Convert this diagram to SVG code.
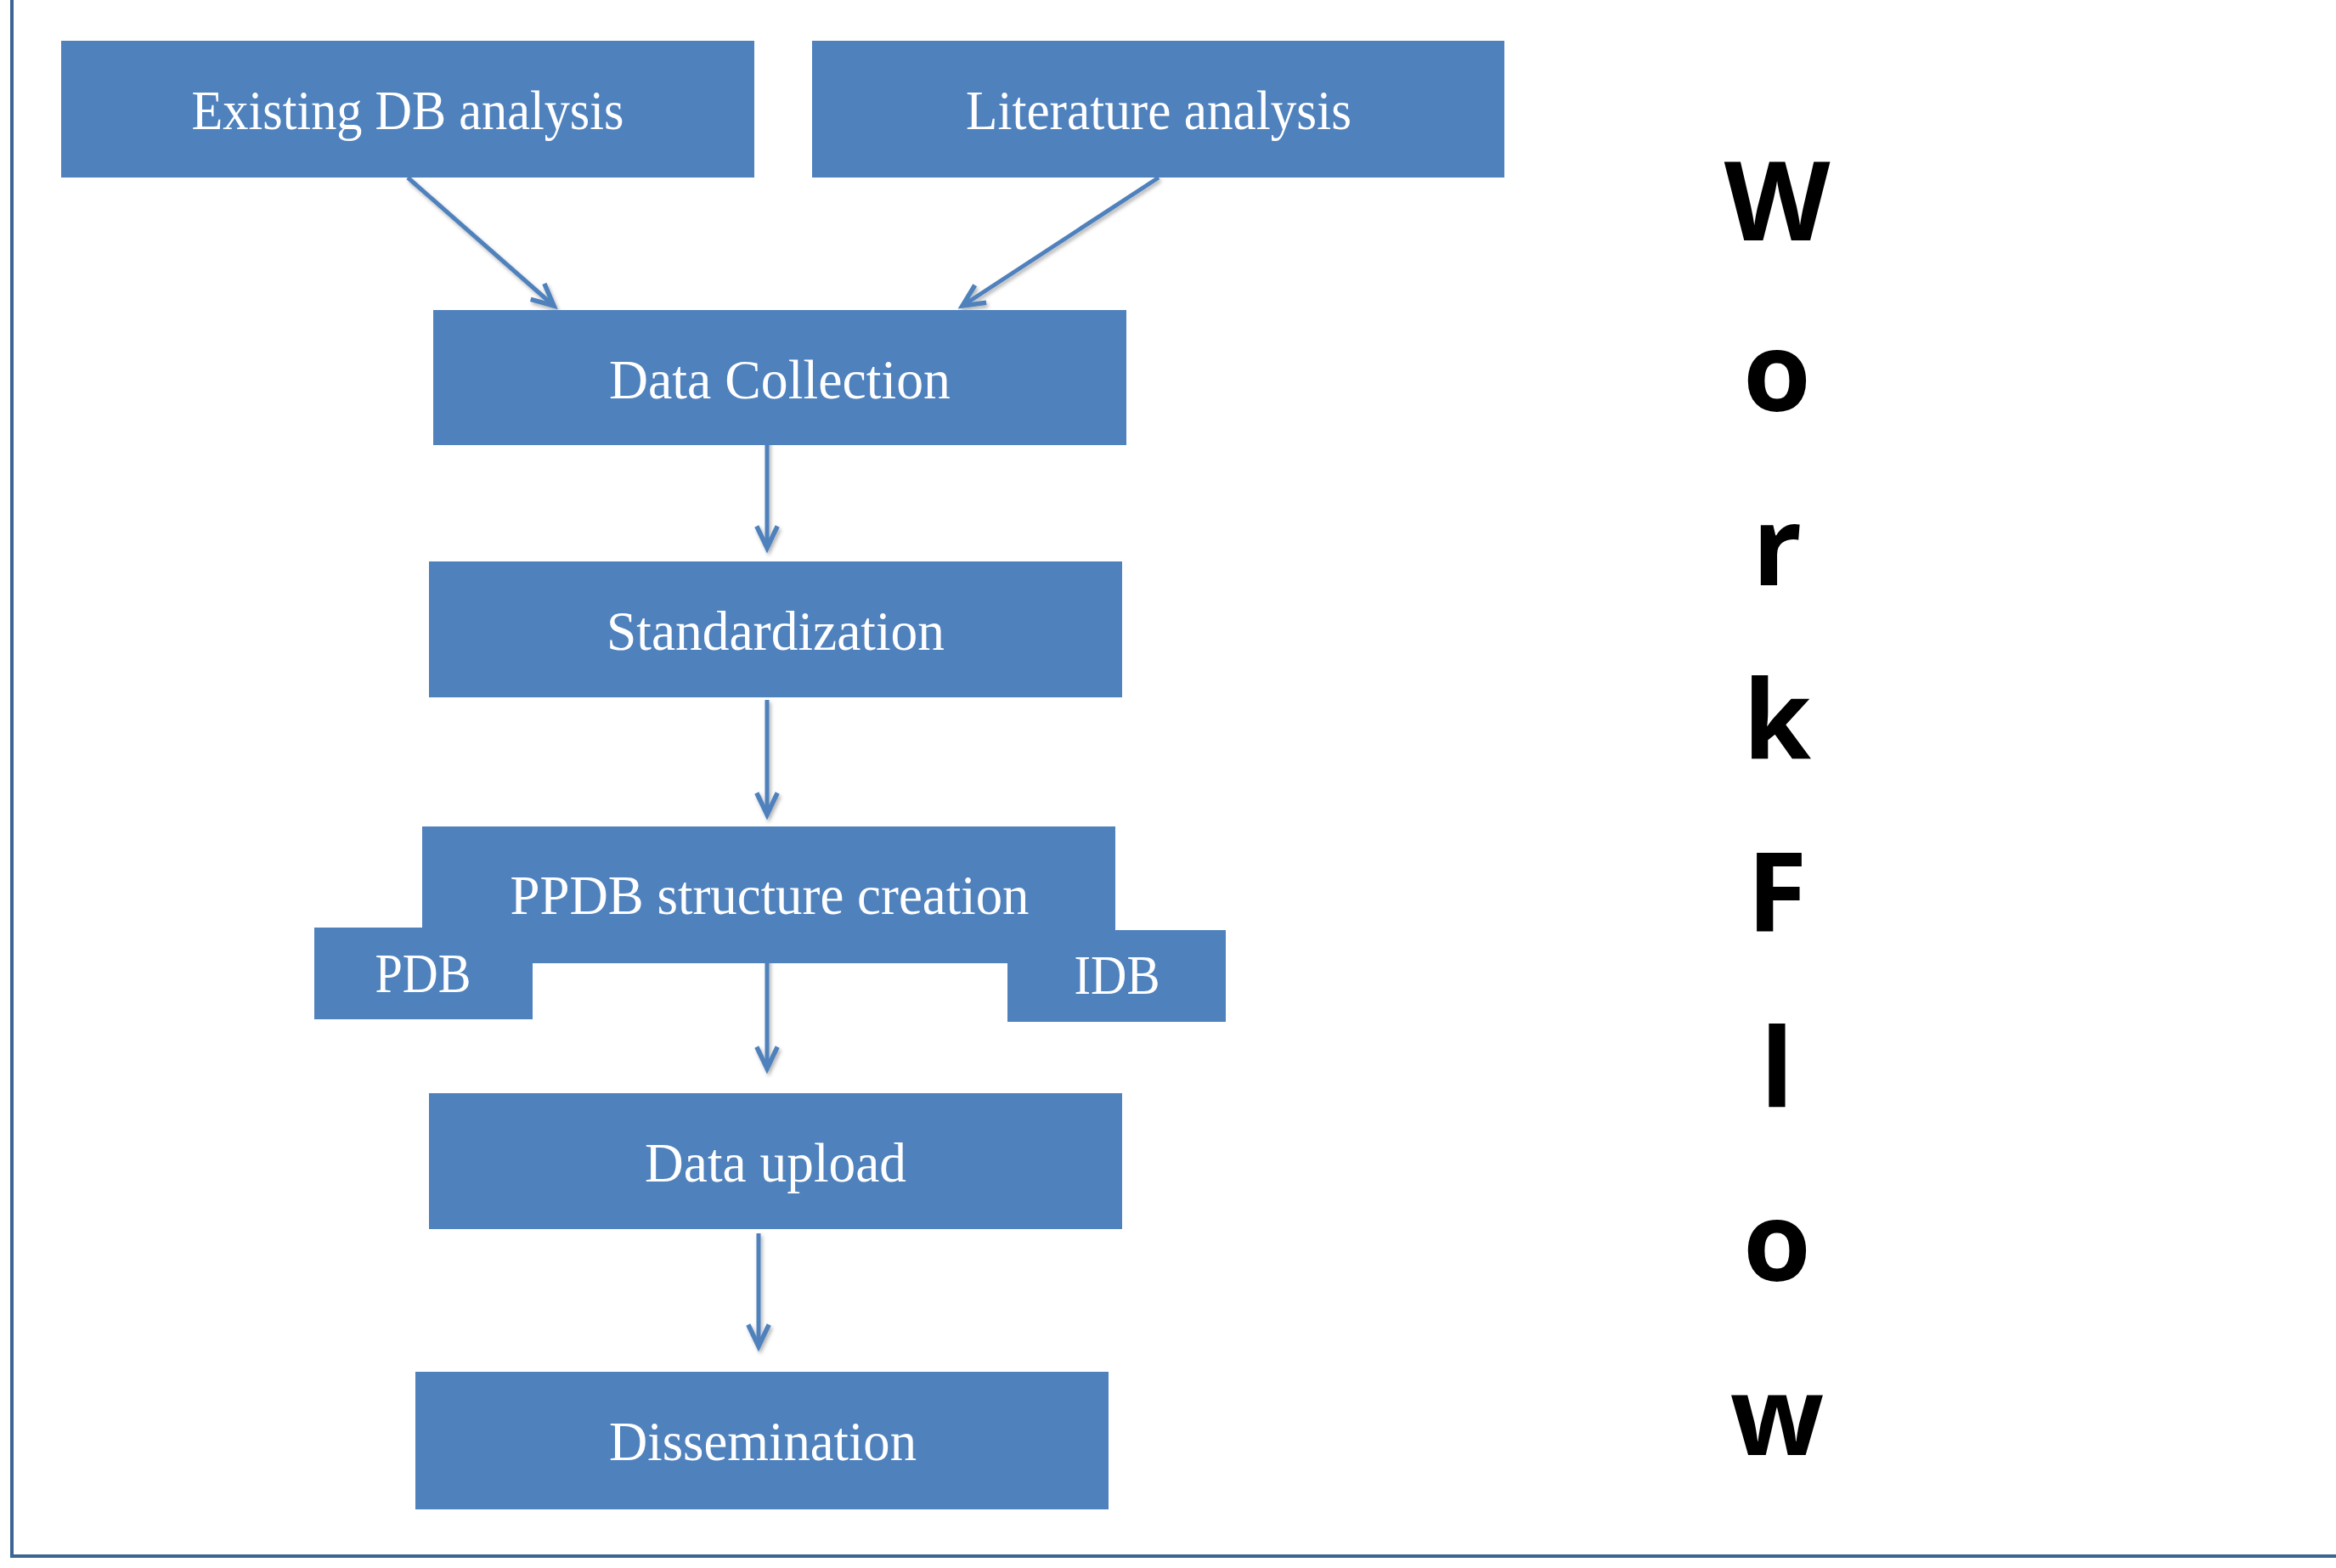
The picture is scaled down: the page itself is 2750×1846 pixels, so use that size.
<svg xmlns="http://www.w3.org/2000/svg" width="2750" height="1846" viewBox="0 0 2750 1846">
<defs>
<style>
.box{fill:#4F81BD}
.lbl{font-family:"Liberation Serif","DejaVu Serif",serif;font-size:66px;fill:#FFFFFF;text-anchor:middle}
.conn{stroke:#4F81BD;stroke-width:5;fill:none;marker-end:url(#arr)}
.wf{font-family:"Open Sans","Liberation Sans",sans-serif;font-weight:bold;font-size:129px;fill:#000000;text-anchor:middle}
.frame{stroke:#3C6494;stroke-width:4;fill:none}
</style>
<marker id="arr" markerUnits="userSpaceOnUse" markerWidth="40" markerHeight="40" viewBox="-30 -15 36 30" refX="0" refY="0" orient="auto">
<path d="M-23,-11 L0,0 L-23,11" fill="none" stroke="#4F81BD" stroke-width="5" stroke-linejoin="miter"/>
</marker>
<filter id="sh" x="-20%" y="-20%" width="140%" height="140%">
<feDropShadow dx="2" dy="3" stdDeviation="2" flood-color="#000" flood-opacity="0.3"/>
</filter>
</defs>
<rect width="2750" height="1846" fill="#FFFFFF"/>
<g id="frame">
<path class="frame" d="M14,0 L14,1832 L2750,1832"/>
</g>
<g id="connectors" filter="url(#sh)">
<line class="conn" x1="480" y1="209" x2="652" y2="360"/>
<line class="conn" x1="1364" y1="209" x2="1133" y2="360"/>
<line class="conn" x1="903" y1="514" x2="903" y2="645"/>
<line class="conn" x1="903" y1="824" x2="903" y2="959"/>
<line class="conn" x1="903" y1="1125" x2="903" y2="1258"/>
<line class="conn" x1="893" y1="1452" x2="893" y2="1585"/>
</g>
<g id="existing-db">
<rect class="box" x="72" y="48" width="816" height="161"/>
<text class="lbl" x="480" y="152" textLength="509" lengthAdjust="spacingAndGlyphs">Existing DB analysis</text>
</g>
<g id="literature">
<rect class="box" x="956" y="48" width="815" height="161"/>
<text class="lbl" x="1364" y="152" textLength="454" lengthAdjust="spacingAndGlyphs">Literature analysis</text>
</g>
<g id="data-collection">
<rect class="box" x="510" y="365" width="816" height="159"/>
<text class="lbl" x="918" y="469" textLength="402" lengthAdjust="spacingAndGlyphs">Data Collection</text>
</g>
<g id="standardization">
<rect class="box" x="505" y="661" width="816" height="160"/>
<text class="lbl" x="913" y="765" textLength="398" lengthAdjust="spacingAndGlyphs">Standardization</text>
</g>
<g id="ppdb">
<rect class="box" x="497" y="973" width="816" height="161"/>
<text class="lbl" x="906" y="1076" textLength="611" lengthAdjust="spacingAndGlyphs">PPDB structure creation</text>
</g>
<g id="pdb">
<rect class="box" x="370" y="1092" width="257" height="108"/>
<text class="lbl" x="498" y="1168" textLength="113" lengthAdjust="spacingAndGlyphs">PDB</text>
</g>
<g id="idb">
<rect class="box" x="1186" y="1095" width="257" height="108"/>
<text class="lbl" x="1315" y="1170" textLength="101" lengthAdjust="spacingAndGlyphs">IDB</text>
</g>
<g id="data-upload">
<rect class="box" x="505" y="1287" width="816" height="160"/>
<text class="lbl" x="913" y="1391" textLength="308" lengthAdjust="spacingAndGlyphs">Data upload</text>
</g>
<g id="dissemination">
<rect class="box" x="489" y="1615" width="816" height="162"/>
<text class="lbl" x="898" y="1719" textLength="362" lengthAdjust="spacingAndGlyphs">Dissemination</text>
</g>
<g id="workflow-title">
<text class="wf" x="2092" y="283">W</text>
<text class="wf" x="2092" y="484">o</text>
<text class="wf" x="2092" y="689">r</text>
<text class="wf" x="2092" y="893">k</text>
<text class="wf" x="2092" y="1097">F</text>
<text class="wf" x="2092" y="1303">l</text>
<text class="wf" x="2092" y="1508">o</text>
<text class="wf" x="2092" y="1713">w</text>
</g>
</svg>
